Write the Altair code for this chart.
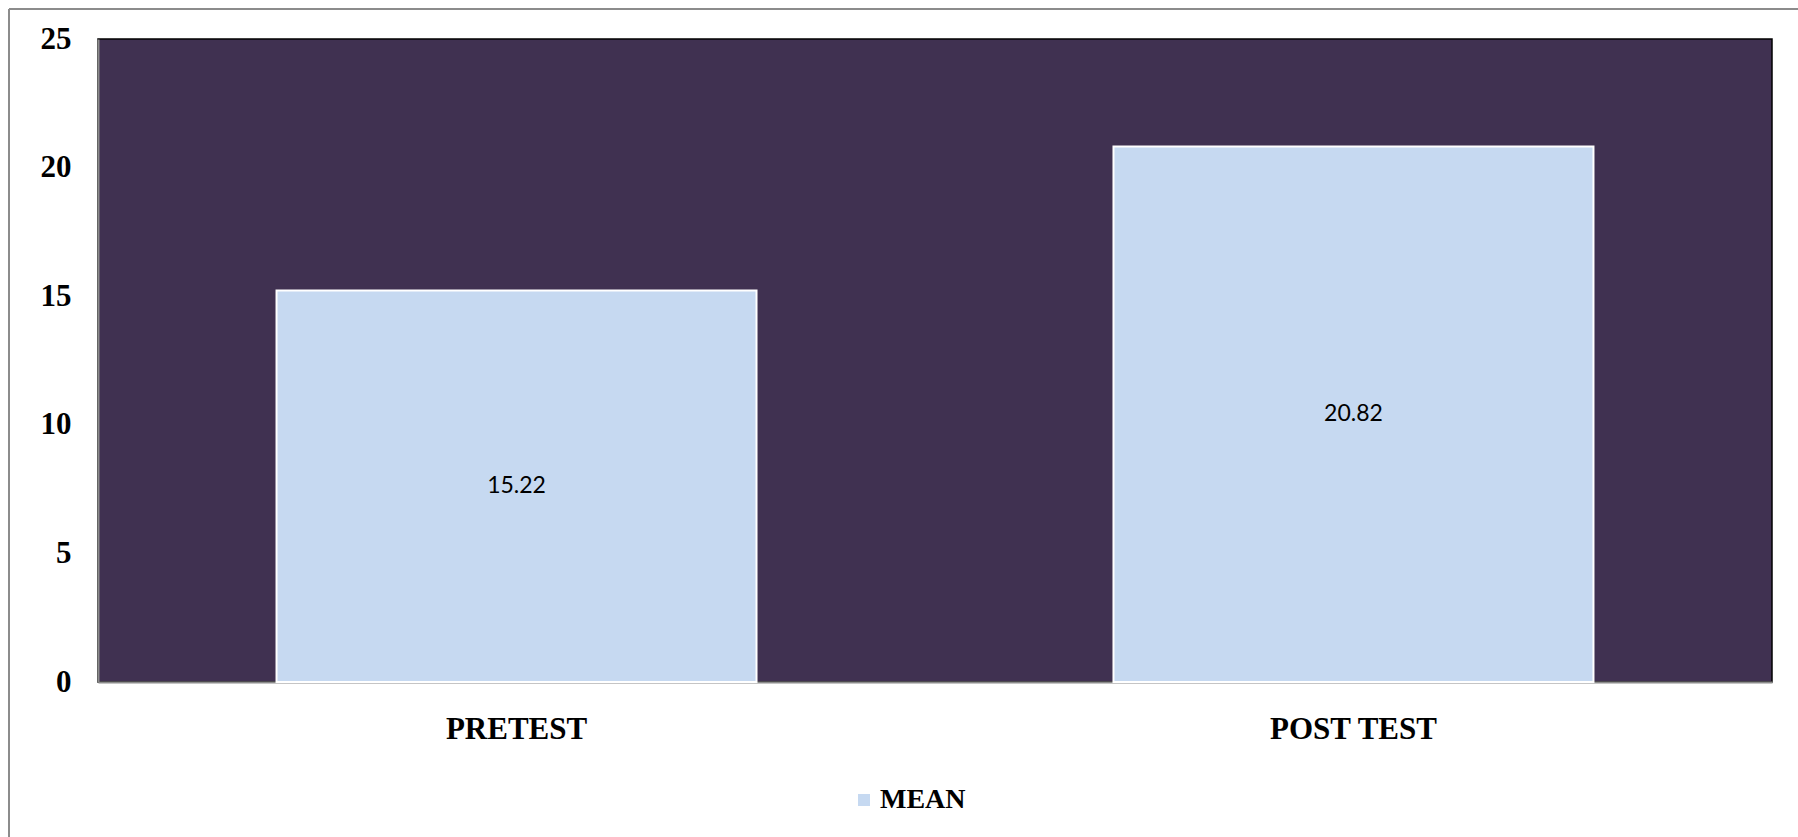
import altair as alt
import pandas as pd

# Chart values
tests = ["PRETEST", "POST TEST"]
means = [15.22, 20.82]
series = ["MEAN", "MEAN"]
y_ticks = [0, 5, 10, 15, 20, 25]

df = pd.DataFrame({"test": tests, "mean": means, "series": series})

BAR = "#C6D9F1"
PLOT_BG = "#403151"
FRAME = "#8c8c8c"
SERIF = "Liberation Serif"

x_enc = alt.X(
    "test:N",
    sort=tests,
    scale=alt.Scale(paddingInner=0.4265, paddingOuter=0.2133),
    axis=alt.Axis(
        title=None,
        labelAngle=0,
        labelFont=SERIF,
        labelFontWeight="bold",
        labelFontSize=31,
        labelColor="black",
        labelPadding=32,
        ticks=False,
        domainColor=FRAME,
        domainWidth=2,
    ),
)

y_scale = alt.Scale(domain=[0, 25], nice=False)
y_axis = alt.Axis(
    title=None,
    values=y_ticks,
    grid=False,
    ticks=False,
    labelFont=SERIF,
    labelFontWeight="bold",
    labelFontSize=31,
    labelColor="black",
    labelPadding=27,
    domainColor=FRAME,
    domainWidth=2,
)

bars = alt.Chart(df).mark_bar(stroke="white", strokeWidth=2).encode(
    x=x_enc,
    y=alt.Y("mean:Q", scale=y_scale, axis=y_axis),
    color=alt.Color(
        "series:N",
        scale=alt.Scale(range=[BAR]),
        legend=alt.Legend(
            title=None,
            orient="none",
            legendX=752,
            legendY=747,
            symbolType="square",
            symbolSize=144,
            symbolStrokeWidth=0,
            labelFont=SERIF,
            labelFontWeight="bold",
            labelFontSize=28,
            labelColor="black",
            labelOffset=2,
        ),
    ),
)

# value labels sit at half the bar height
labels = (
    alt.Chart(df)
    .transform_calculate(mid="datum.mean / 2")
    .mark_text(font="Lato", fontSize=23, color="black", baseline="middle")
    .encode(
        x=alt.X("test:N", sort=tests),
        y=alt.Y("mid:Q", scale=y_scale),
        text=alt.Text("mean:Q", format=".2f"),
    )
)

# outer chart frame (top and left edges)
frame_src = pd.DataFrame({"k": [0]})
frame_top = alt.Chart(frame_src).mark_rule(color=FRAME, strokeWidth=2).encode(
    x=alt.value(-89), x2=alt.value(1700), y=alt.value(-30)
)
frame_left = alt.Chart(frame_src).mark_rule(color=FRAME, strokeWidth=2).encode(
    x=alt.value(-89), y=alt.value(-30), y2=alt.value(798)
)

chart = (
    alt.layer(frame_top, frame_left, bars, labels)
    .properties(
        width=1674,
        height=643,
        autosize=alt.AutoSizeParams(type="none"),
        padding={"left": 98, "top": 39, "right": 26, "bottom": 155},
        background="white",
    )
    .configure_view(fill=PLOT_BG, stroke="black", strokeWidth=1.5)
)

chart.save("out.html", embed_options={"renderer": "svg", "actions": False})
